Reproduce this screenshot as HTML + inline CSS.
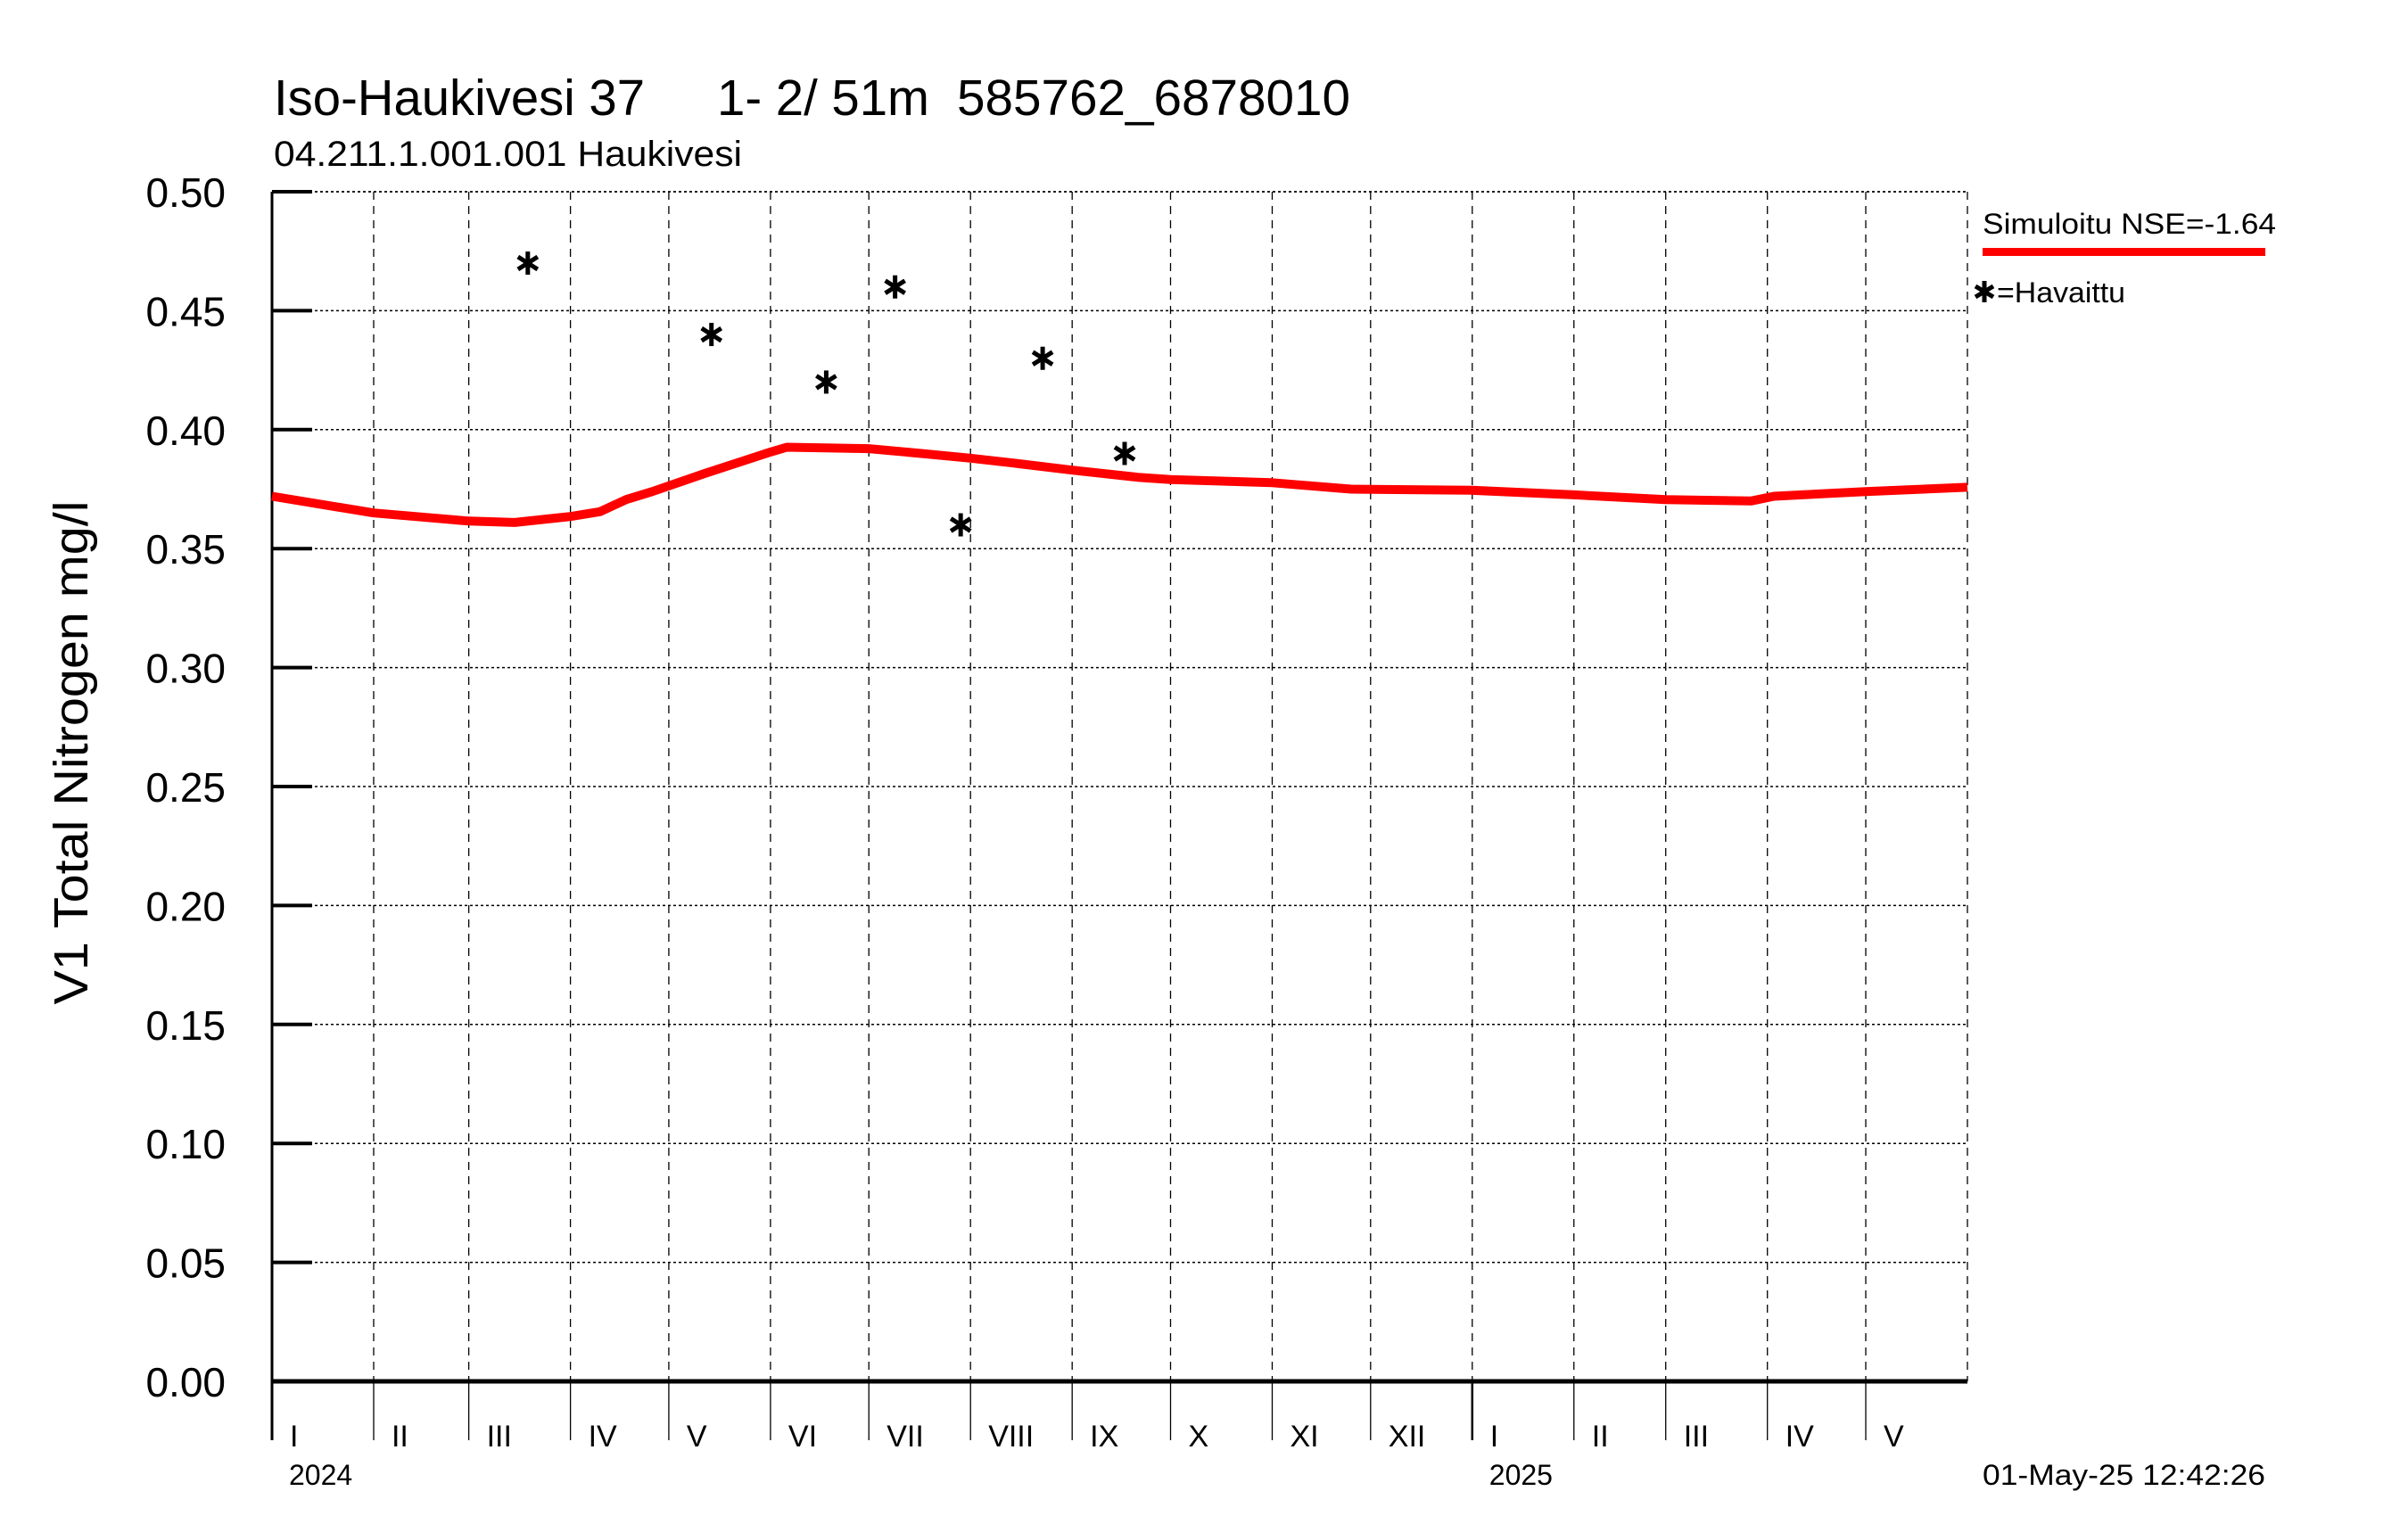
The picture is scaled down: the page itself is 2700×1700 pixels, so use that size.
<!DOCTYPE html>
<html><head><meta charset="utf-8"><style>
html,body{margin:0;padding:0;background:#fff;}
svg{display:block;font-family:"Liberation Sans",sans-serif;}
</style></head><body>
<svg id="chart" xmlns="http://www.w3.org/2000/svg" width="2700" height="1700" viewBox="0 0 2700 1700">
<rect width="2700" height="1700" fill="#fff"/>
<g font-size="57" fill="#000">
<text x="307" y="129" textLength="416" lengthAdjust="spacingAndGlyphs">Iso-Haukivesi 37</text>
<text x="804" y="129" textLength="238" lengthAdjust="spacingAndGlyphs">1- 2/ 51m</text>
<text x="1073" y="129" textLength="441" lengthAdjust="spacingAndGlyphs">585762_6878010</text>
</g>
<text x="307" y="186" font-size="40" textLength="525" lengthAdjust="spacingAndGlyphs">04.211.1.001.001 Haukivesi</text>
<text transform="translate(98,844) rotate(-90)" text-anchor="middle" font-size="54" textLength="565" lengthAdjust="spacingAndGlyphs">V1 Total Nitrogen mg/l</text>
<g id="grid"></g>
<g id="axes"></g>
<g id="series"></g>
<g>
<text x="2223" y="262" font-size="32" textLength="329" lengthAdjust="spacingAndGlyphs">Simuloitu NSE=-1.64</text>
<rect x="2223" y="278" width="317" height="9" fill="#ff0000"/>
<g stroke="#000" stroke-width="5">
<line x1="2225" y1="315" x2="2225" y2="339"/><line x1="2215" y1="321" x2="2235" y2="333"/><line x1="2215" y1="333" x2="2235" y2="321"/></g>
<text x="2239" y="339" font-size="32" textLength="144" lengthAdjust="spacingAndGlyphs">=Havaittu</text>
</g>
<text x="2223" y="1665" font-size="32" textLength="317" lengthAdjust="spacingAndGlyphs">01-May-25 12:42:26</text>
</svg>
<script>
const yTicks = [0.00,0.05,0.10,0.15,0.20,0.25,0.30,0.35,0.40,0.45,0.50];
const monthLabels = ["I","II","III","IV","V","VI","VII","VIII","IX","X","XI","XII","I","II","III","IV","V"];
const monthStartDays = [0,31,60,91,121,152,182,213,244,274,305,335,366,397,425,456,486];
const yearLabels = ["2024","2025"];
const yearStartDays = [0,366];
const simDays = [0,31,60,74,91,100,108,116,132,152,157,182,198,213,226,244,264,274,305,329,366,397,425,451,458,486,517];
const simValues = [0.372,0.365,0.3616,0.361,0.3635,0.3655,0.3706,0.374,0.3816,0.3906,0.3926,0.392,0.390,0.388,0.386,0.383,0.380,0.379,0.3777,0.375,0.3745,0.3726,0.3706,0.370,0.372,0.374,0.3758];
const obsDays = [78,134,169,190,210,235,260];
const obsValues = [0.47,0.44,0.42,0.46,0.36,0.43,0.39];

const NS="http://www.w3.org/2000/svg";
const L=305,R=2206,T=215,B=1549,DAYS=517,YMAX=0.5;
function xs(d){return L+(R-L)*d/DAYS;}
function ys(v){return B-(B-T)*v/YMAX;}
function mk(tag,attrs,parent){const e=document.createElementNS(NS,tag);for(const k in attrs)e.setAttribute(k,attrs[k]);parent.appendChild(e);return e;}
const gridG=document.getElementById('grid'),axesG=document.getElementById('axes'),seriesG=document.getElementById('series');

yTicks.forEach((v,i)=>{
  if(v>0){const g=mk('line',{x1:L,x2:R,y1:ys(v),y2:ys(v),stroke:'#000','stroke-width':1.5,'stroke-dasharray':'3,3'},gridG);
  
  }
  const t=mk('line',{x1:L,x2:350,y1:ys(v),y2:ys(v),stroke:'#000','stroke-width':4},axesG);
  
  
  const lb=mk('text',{x:253,y:ys(v)+17,'text-anchor':'end','font-size':46},axesG);
  lb.textContent=v.toFixed(2);
  
  
});
monthStartDays.forEach((d,i)=>{
  const x=xs(d);
  if(d>0){const g=mk('line',{x1:x,x2:x,y1:T,y2:B,stroke:'#000','stroke-width':1.3,'stroke-dasharray':'9,7'},gridG);
  
  }
  const t=mk('line',{x1:x,x2:x,y1:B,y2:1615,stroke:'#000','stroke-width':(yearStartDays.includes(d)&&d>0)?2.5:1.3},axesG);
  
  
  const lb=mk('text',{x:x+20,y:1622,'font-size':34},axesG);
  lb.textContent=monthLabels[i];
  
  
});
yearStartDays.forEach((d,i)=>{
  const lb=mk('text',{x:xs(d)+19,y:1665,'font-size':32},axesG);
  lb.textContent=yearLabels[i];
  
  
});
const topLine=mk('line',{x1:L,x2:R,y1:T,y2:T,stroke:'#000','stroke-width':1.5,'stroke-dasharray':'3,3'},gridG);


const rightLine=mk('line',{x1:R,x2:R,y1:T,y2:B,stroke:'#000','stroke-width':1.3,'stroke-dasharray':'9,7'},gridG);


const yAxisLine=mk('line',{x1:L,x2:L,y1:T,y2:1615,stroke:'#000','stroke-width':3},axesG);


const xAxisLine=mk('line',{x1:L,x2:R,y1:B,y2:B,stroke:'#000','stroke-width':5},axesG);



const pts=simDays.map((d,i)=>xs(d).toFixed(1)+','+ys(simValues[i]).toFixed(1)).join(' ');
const simLine=mk('polyline',{points:pts,fill:'none',stroke:'#ff0000','stroke-width':10,'stroke-linejoin':'round'},seriesG);


obsDays.forEach((d,i)=>{
  const x=xs(d),y=ys(obsValues[i]);
  const g=mk('g',{stroke:'#000','stroke-width':5},seriesG);
  
  
  mk('line',{x1:x,x2:x,y1:y-13,y2:y+13},g);
  mk('line',{x1:x-11,x2:x+11,y1:y-7,y2:y+7},g);
  mk('line',{x1:x-11,x2:x+11,y1:y+7,y2:y-7},g);
});
</script>
</body></html>
